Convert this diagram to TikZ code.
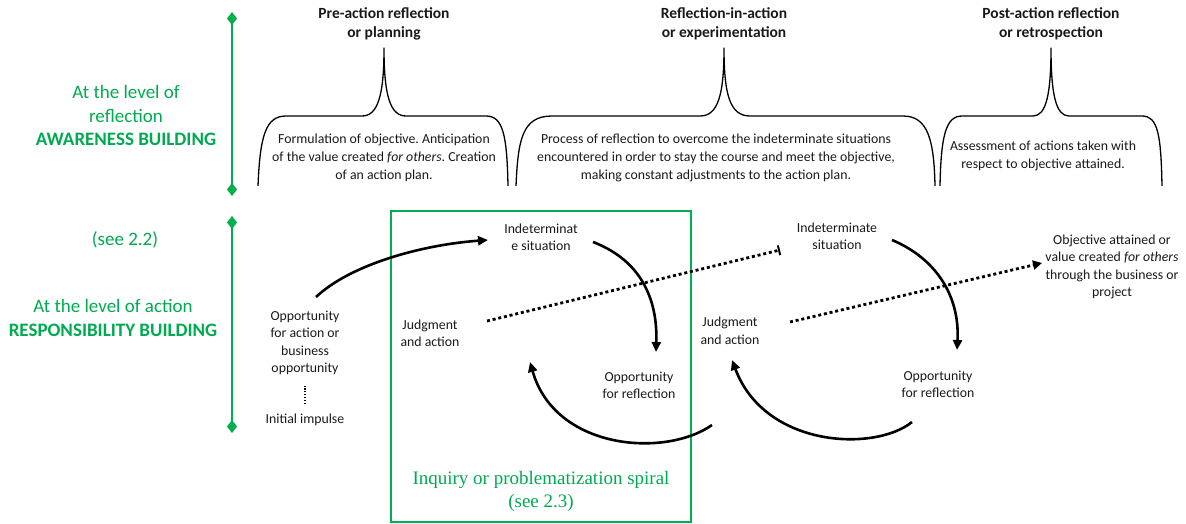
\documentclass[tikz,border=0pt]{standalone}
\usepackage{fontspec}
\setmainfont{Carlito}
\newfontfamily\serifg{Liberation Serif}
\usetikzlibrary{arrows.meta}
\frenchspacing
\definecolor{lgreen}{RGB}{0,176,80}
\definecolor{tgreen}{RGB}{0,170,80}
\definecolor{ink}{RGB}{25,25,25}
\tikzset{
  body/.style={align=center, text=ink, font=\fontsize{13.8}{18}\selectfont, inner sep=0pt},
  head/.style={align=center, text=ink, font=\fontsize{15.5}{19}\selectfont\bfseries, inner sep=0pt},
  lefttxt/.style={align=center, text=tgreen, font=\fontsize{19}{23.5}\selectfont, inner sep=0pt},
  lbl/.style={align=center, text=ink, font=\fontsize{13.8}{17.5}\selectfont, inner sep=0pt},
  bracestyle/.style={draw=black, line width=1.3pt, line join=round},
  greenline/.style={draw=lgreen, line width=2.2pt, {Diamond[length=13pt,width=10pt]}-{Diamond[length=13pt,width=10pt]}},
  cyc/.style={draw=black, line width=2.6pt, -{Triangle[length=10pt,width=9pt]}},
  dotarrow/.style={draw=black, line width=2.8pt, dash pattern=on 3pt off 2.8pt},
}
\begin{document}
\begin{tikzpicture}[x=1pt,y=-1pt]
\useasboundingbox (0,0) rectangle (1186,524);

% green level lines
\draw[greenline] (232,12) -- (232,196);
\draw[greenline] (232,216) -- (232,433);

% left labels
\node[lefttxt] (lvlref) at (126,115.5) {At the level of\\reflection\\\textbf{AWARENESS BUILDING}};
\node[lefttxt] (see22) at (125,240) {(see 2.2)};
\node[lefttxt] (lvlact) at (113,318) {At the level of action\\\textbf{RESPONSIBILITY BUILDING}};

% headings
\node[head] (h1) at (384,23.5) {Pre-action reflection\\or planning};
\node[head] (h2) at (724,23.5) {Reflection-in-action\\or experimentation};
\node[head] (h3) at (1051,23.5) {Post-action reflection\\or retrospection};

% braces
\draw[bracestyle] (258,186) .. controls (260,135) and (266,116) .. (286,116) -- (362,116)
  .. controls (378,116) and (384,95) .. (384,48) .. controls (384,95) and (390,116) .. (406,116)
  -- (486,116) .. controls (503,116) and (507,135) .. (508,186);
\draw[bracestyle] (516,186) .. controls (518,140) and (522,116) .. (552,116) -- (700,116)
  .. controls (718,116) and (724,95) .. (724,48) .. controls (724,95) and (730,116) .. (750,116)
  -- (903,116) .. controls (928,116) and (934,140) .. (935,186);
\draw[bracestyle] (940,186) .. controls (941,135) and (946,116) .. (962,116) -- (1033,116)
  .. controls (1046,116) and (1051,95) .. (1051,48) .. controls (1051,95) and (1056,116) .. (1069,116)
  -- (1142,116) .. controls (1158,116) and (1161,135) .. (1162,186);

% brace texts
\node[body] (b1) at (384,158) {Formulation of objective. Anticipation\\of the value created \emph{for others}. Creation\\of an action plan.};
\node[body] (b2) at (716,158) {Process of reflection to overcome the indeterminate situations\\encountered in order to stay the course and meet the objective,\\making constant adjustments to the action plan.};
\node[body] (b3) at (1043,156) {Assessment of actions taken with\\respect to objective attained.};

% spiral box
\draw[lgreen, line width=1.5pt] (391,211) rectangle (691,522);
\node[align=center, text=tgreen, font=\serifg\fontsize{19}{23}\selectfont, inner sep=0pt] (spiral) at (541,491.5) {Inquiry or problematization spiral\\(see 2.3)};

% lower nodes
\node[lbl] (opp0) at (305,343) {Opportunity\\for action or\\business\\opportunity};
\node[lbl] (init) at (305,420) {Initial impulse};
\node[lbl] (ind1) at (541,237.5) {Indeterminat\\e situation};
\node[lbl] (jud1) at (430,333.5) {Judgment\\and action};
\node[lbl] (opr1) at (639,385.5) {Opportunity\\for reflection};
\node[lbl] (ind2) at (837,236.5) {Indeterminate\\situation};
\node[lbl] (jud2) at (730,331) {Judgment\\and action};
\node[lbl] (opr2) at (938,384.5) {Opportunity\\for reflection};
\node[lbl] (obj) at (1112,267) {Objective attained or\\value created \emph{for others}\\through the business or\\project};

% connector end points
\coordinate (a1s) at (316,297);
\coordinate (a1e) at (488,240);
\coordinate (a2s) at (593,242);
\coordinate (a2e) at (656,352);
\coordinate (a3s) at (712,425);
\coordinate (a3e) at (530,362);
\coordinate (d1s) at (487,321);
\coordinate (d1e) at (780,250);
\coordinate (a6s) at (892,240);
\coordinate (a6e) at (957,350);
\coordinate (a7s) at (912,422);
\coordinate (a7e) at (732,360);
\coordinate (d2s) at (790,322);
\coordinate (d2e) at (1042,263);
\coordinate (imp1) at (305,386);
\coordinate (imp2) at (305,404);

% dotted impulse link
\draw[black, line width=1.3pt, dash pattern=on 1.3pt off 1.6pt] (imp2) -- (imp1);

% cycle arrows
\draw[cyc] (a1s) .. controls (350,265) and (420,245) .. (a1e);
\draw[cyc] (a2s) .. controls (635,258) and (658,292) .. (a2e);
\draw[cyc] (a3s) .. controls (665,458) and (555,450) .. (a3e);
\draw[cyc] (a6s) .. controls (935,258) and (960,295) .. (a6e);
\draw[cyc] (a7s) .. controls (875,452) and (765,448) .. (a7e);

% dotted arrows
\draw[dotarrow, -{Bar[width=10pt,line width=2pt]}] (d1s) -- (d1e);
\draw[dotarrow, -{Triangle[length=9pt,width=9pt]}] (d2s) -- (d2e);
\end{tikzpicture}
\end{document}
